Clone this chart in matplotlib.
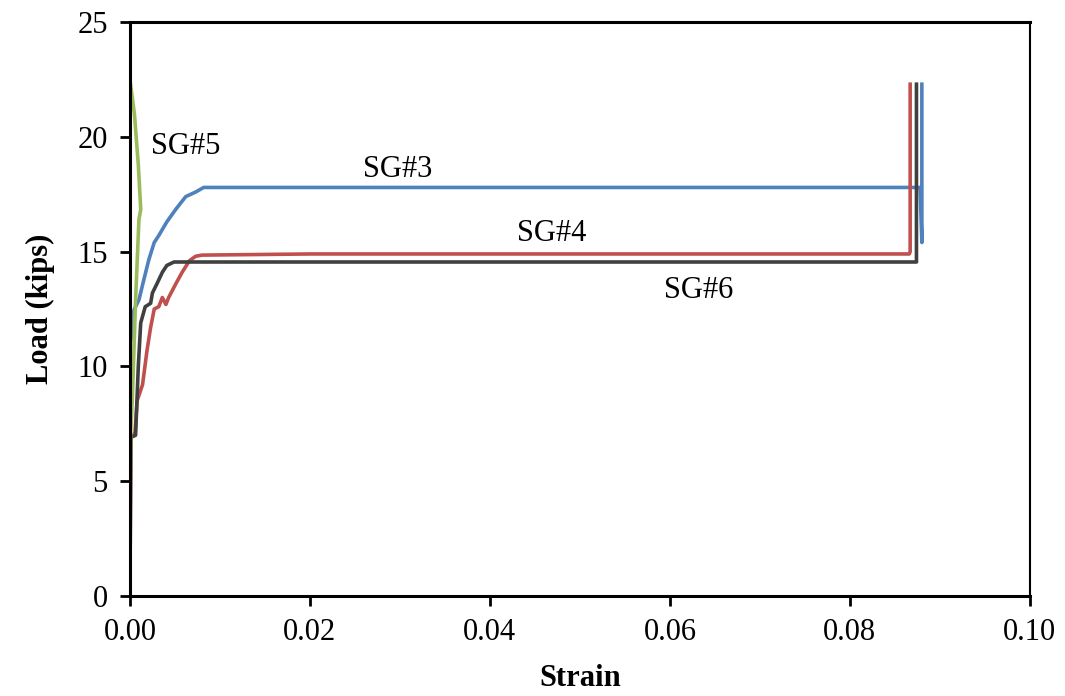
import matplotlib.pyplot as plt

plt.rcParams['font.family'] = ['Liberation Serif', 'DejaVu Serif']

# SG#3 (blue)
sg3_strain = [0, 0, 0.00007, 0.00044, 0.0010, 0.00156, 0.0021, 0.0027, 0.0032, 0.0038,
              0.0041, 0.0051, 0.0062, 0.0073, 0.0082, 0.030, 0.060, 0.0878, 0.0880, 0.0880]
sg3_load = [0, 8.2, 11.0, 12.45, 12.9, 13.8, 14.65, 15.4, 15.7, 16.1,
            16.3, 16.85, 17.4, 17.6, 17.8, 17.8, 17.8, 17.8, 15.4, 22.3]

# SG#4 (red)
sg4_strain = [0, 0.0001, 0.00056, 0.0008, 0.0014, 0.0019, 0.0023, 0.0027, 0.0032, 0.0036,
              0.0040, 0.0043, 0.0051, 0.0058, 0.0066, 0.0073, 0.0080, 0.020, 0.050, 0.0866, 0.0867, 0.0867]
sg4_load = [0, 6.9, 7.1, 8.5, 9.2, 10.7, 11.7, 12.5, 12.6, 13.0,
            12.7, 13.0, 13.6, 14.1, 14.6, 14.8, 14.85, 14.9, 14.9, 14.9, 15.0, 22.3]

# SG#5 (green)
sg5_strain = [0, 0, 0.00007, 0.00026, 0.00063, 0.0010, 0.0012, 0.00093, 0.0005, 0.00007]
sg5_load = [0, 2.6, 7.0, 8.5, 12.9, 16.4, 16.85, 18.8, 21.0, 22.3]

# SG#6 (dark grey)
sg6_strain = [0, 0.0001, 0.00063, 0.00093, 0.0012, 0.0017, 0.0023, 0.0025, 0.0030, 0.0036,
              0.0041, 0.0049, 0.0062, 0.030, 0.060, 0.0874, 0.0874]
sg6_load = [0, 6.9, 7.0, 10.0, 11.9, 12.6, 12.75, 13.2, 13.6, 14.1,
            14.4, 14.55, 14.55, 14.55, 14.55, 14.55, 22.3]

labels = ['SG#5', 'SG#3', 'SG#4', 'SG#6']
label_pos = [(0.0062, 19.6), (0.0297, 18.6), (0.0469, 15.8), (0.0632, 13.3)]

fig = plt.figure(figsize=(10.65, 6.96), dpi=100)
ax = fig.add_axes([0.122, 0.144, 0.845, 0.824])

ax.plot(sg3_strain, sg3_load, color='#4F81BD', lw=2.6)
ax.plot(sg4_strain, sg4_load, color='#C0504D', lw=2.6)
ax.plot(sg6_strain, sg6_load, color='#404040', lw=2.6)
ax.plot(sg5_strain, sg5_load, color='#9BBB59', lw=2.6)

for txt, (x, y) in zip(labels, label_pos):
    ax.text(x, y, txt, fontsize=22, ha='center', va='center')

ax.set_xlim(0, 0.10)
ax.set_ylim(0, 25)
ax.set_xticks([0, 0.02, 0.04, 0.06, 0.08, 0.10])
ax.set_xticklabels(['0.00', '0.02', '0.04', '0.06', '0.08', '0.10'])
ax.set_yticks([0, 5, 10, 15, 20, 25])
ax.tick_params(direction='out', length=7, width=2, labelsize=22, pad=9)
for s in ax.spines.values():
    s.set_linewidth(2.2)
ax.spines['right'].set_linewidth(1.5)

ax.set_xlabel('Strain', fontsize=22, fontweight='bold', labelpad=12)
ax.set_ylabel('Load (kips)', fontsize=22, fontweight='bold', labelpad=16)

fig.savefig('out.png', dpi=100)
